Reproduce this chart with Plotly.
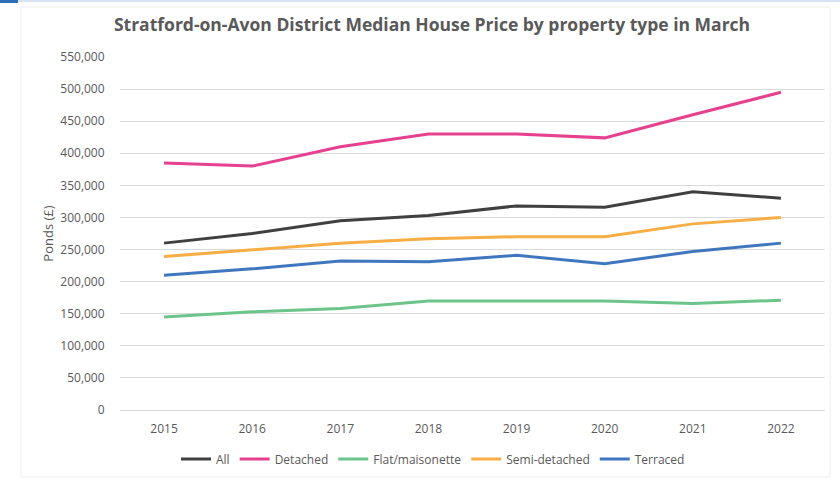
import plotly.graph_objects as go

years = ["2015", "2016", "2017", "2018", "2019", "2020", "2021", "2022"]
all_vals = [260000, 275000, 295000, 303000, 318000, 316000, 340000, 330000]
detached = [385000, 380000, 410000, 430000, 430000, 424000, 460000, 495000]
flat = [145000, 153000, 158000, 170000, 170000, 170000, 166000, 171000]
semi = [239000, 250000, 260000, 267000, 270000, 270000, 290000, 300000]
terraced = [210000, 220000, 232000, 231000, 241000, 228000, 247000, 260000]

series = [
    ("All", all_vals, "#404040"),
    ("Detached", detached, "#E6408F"),
    ("Flat/maisonette", flat, "#6CC48A"),
    ("Semi-detached", semi, "#F8AE45"),
    ("Terraced", terraced, "#3F77BF"),
]

fig = go.Figure()
for name, vals, col in series:
    fig.add_trace(go.Scatter(x=years, y=vals, name=name, mode="lines",
                             line=dict(color=col, width=3)))

L, R, T, B = 120, 15, 57, 70
W, H = 840, 480
pw, ph = W - L - R, H - T - B

def px(x):
    return (x - L) / pw

def py(y):
    return (H - B - y) / ph

fig.update_layout(
    width=W, height=H,
    margin=dict(l=L, r=R, t=T, b=B, autoexpand=False),
    paper_bgcolor="white", plot_bgcolor="white",
    font=dict(family="Open Sans, sans-serif", color="#595959", size=12),
    title=dict(text="<b>Stratford-on-Avon District Median House Price by property type in March</b>",
               x=432 / W, xanchor="center", xref="container", y=1 - 25 / H, yanchor="middle",
               yref="container", font=dict(size=17.5, color="#595959")),
    xaxis=dict(type="category", range=[-0.5, 7.5], showgrid=False, showline=True,
               linecolor="#d9d9d9", linewidth=1, ticks="outside", ticklen=8, tickcolor="white",
               tickfont=dict(size=12, color="#595959"), automargin=False, fixedrange=True),
    yaxis=dict(range=[0, 550000], dtick=50000, tickformat=",", showgrid=True,
               gridcolor="#d9d9d9", gridwidth=1, zeroline=False, showline=False,
               ticks="outside", ticklen=12, tickcolor="white", automargin=False,
               title=dict(text="Ponds (£)", font=dict(size=13, color="#595959"), standoff=3),
               tickfont=dict(size=12, color="#595959")),
    legend=dict(orientation="h", x=px(433), xanchor="center", y=py(459), yanchor="middle",
                font=dict(size=12, color="#595959"), tracegroupgap=0, itemwidth=30),
    showlegend=True,
)

shapes = [
    dict(type="rect", xref="paper", yref="paper", x0=px(21), x1=px(830), y0=py(477), y1=py(7),
         line=dict(color="#eeeeee", width=1), fillcolor="rgba(0,0,0,0)", layer="below"),
    dict(type="line", xref="paper", yref="paper", x0=px(0), x1=px(840), y0=py(1), y1=py(1),
         line=dict(color="#d6e4f2", width=2)),
    dict(type="rect", xref="paper", yref="paper", x0=px(0), x1=px(18), y0=py(3), y1=py(0),
         line=dict(width=0), fillcolor="#2F6EBA"),
]
fig.update_layout(shapes=shapes)

fig.write_html("out.html", config={"displayModeBar": False},
               post_script="document.body.style.margin='0';document.body.style.overflow='hidden';")
